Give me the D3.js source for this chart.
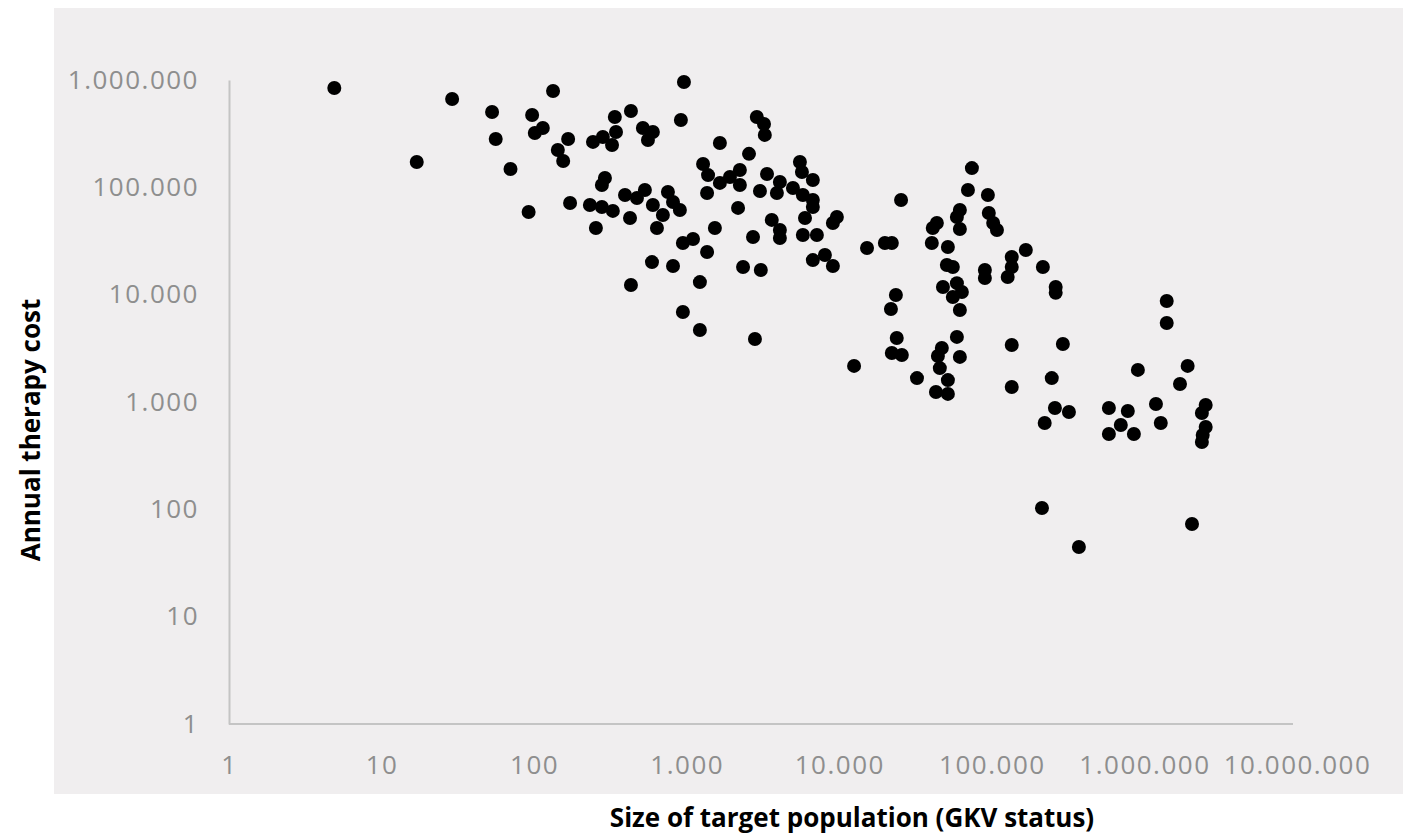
<html>
<head>
<meta charset="utf-8">
<script src="https://d3js.org/d3.v7.min.js"></script>
<style>
body { margin: 0; background: #fff; }
.tick text { font-family: "Open Sans", sans-serif; font-size: 26px; letter-spacing: 1.5px; fill: #8e8e8e; }
.title { font-family: "Open Sans", sans-serif; font-weight: 700; font-size: 26px; fill: #000; }
</style>
</head>
<body onload="init()">
<svg width="1403" height="835"></svg>
<script>
// values (x = target population, y = annual cost)
var population = [4.9, 29, 53, 97, 114, 101, 56, 17, 70, 92,
  133, 959, 431, 916, 338, 167, 143, 155, 243, 282,
  324, 344, 516, 600, 557, 1650, 2880, 3250, 2560, 1280,
  1380, 1360, 1650, 1920, 2230, 2230, 2170, 3020, 3360, 3610,
  291, 278, 172, 232, 278, 328, 394, 472, 532, 425,
  600, 753, 813, 902, 698, 638, 254, 1530, 944, 1100,
  1360, 2720, 592, 813, 2340, 3060, 431, 1220, 3210,
  944, 1220, 2800,
  5520, 5690, 4080, 6710, 3900, 4970, 5770, 6710, 6710, 4080,
  4080, 5960, 5770, 7130, 9640, 9080, 6710, 8050, 9080,
  25400, 15200, 19900, 22100,
  74000, 69700, 94200, 61700, 59000, 43600, 41000, 61700, 40400, 51500,
  50700, 55500, 47800, 59000, 63600, 55500, 61700, 90000, 90000,
  23500, 21800, 23800, 22100, 25700, 12500,
  59000, 47000, 44300, 45600, 61700, 32300, 51500, 43000, 51500,
  95500, 102000, 108000, 167000, 135000, 135000, 127000, 216000, 262000, 262000,
  1400000, 1400000, 135000, 292000, 906000, 1920000, 247000, 1710000,
  135000, 259000, 320000, 222000, 585000, 778000, 700000, 585000, 853000,
  1190000, 1280000, 2520000, 2380000, 2520000, 2410000, 2380000,
  213000, 2050000, 372000];

var annualCost = [843000, 665000, 504000, 472000, 357000, 321000, 282000, 172000, 148000, 58900,
  791000, 959000, 514000, 424000, 452000, 282000, 223000, 176000, 265000, 294000,
  248000, 328000, 357000, 328000, 276000, 259000, 452000, 308000, 205000, 165000,
  130000, 88500, 110000, 125000, 145000, 105000, 64300, 92500, 133000, 49700,
  122000, 105000, 71500, 68500, 65600, 60300, 84900, 79600, 94400, 51800,
  68500, 90600, 73100, 61500, 55200, 41800, 41800, 41800, 30300, 33000,
  25000, 34500, 20100, 18500, 18100, 17000, 12300, 13100, 389000,
  6900, 4690, 3860,
  172000, 139000, 112000, 117000, 88500, 98600, 84900, 76200, 65600, 40100,
  33700, 51800, 36000, 36000, 53000, 46600, 21000, 23400, 18500,
  76200, 27200, 30300, 30300,
  151000, 94400, 84900, 61500, 53000, 46600, 41800, 40900, 30300, 27800,
  18900, 18100, 11800, 12800, 10600, 9510, 7190, 17000, 14300,
  9930, 7360, 3950, 2860, 2740, 2170,
  4040, 3180, 2680, 2070, 2630, 1670, 1600, 1240, 1190,
  57700, 46600, 40100, 26100, 22400, 18100, 14600, 18100, 11800, 10400,
  8730, 5450, 3400, 3470, 1990, 2170, 1670, 1470,
  1380, 879, 807, 637, 879, 824, 611, 504, 504,
  958, 637, 938, 790, 585, 493, 424,
  103, 73, 44.6];

var xTicks = [1, 10, 100, 1000, 10000, 100000, 1000000, 10000000];
var yTicks = [1, 10, 100, 1000, 10000, 100000, 1000000];

var xTitle = "Size of target population (GKV status)";
var yTitle = "Annual therapy cost";

function init() {
  var svg = d3.select("svg");

  // german number format: 1.000.000
  var de = d3.formatLocale({decimal: ",", thousands: ".", grouping: [3], currency: ["", " €"]});
  var fmt = de.format(",d");

  var x = d3.scaleLog().domain([1, 1e7]).range([229, 1297]);
  var y = d3.scaleLog().domain([1, 1e6]).range([724, 80]);

  // grey plot panel
  svg.append("rect")
    .attr("x", 54).attr("y", 8)
    .attr("width", 1403 - 54).attr("height", 794 - 8)
    .attr("fill", "#f0eeef");

  var xAxis = d3.axisBottom(x)
    .tickValues(xTicks)
    .tickFormat(fmt)
    .tickSize(0)
    .tickPadding(32);

  var gx = svg.append("g")
    .attr("transform", "translate(0," + y(1) + ")")
    .call(xAxis);
  gx.select(".domain").attr("stroke", "#c4c4c4").attr("stroke-width", 2)
    .attr("d", "M" + x(1) + ",0H" + (x(1e7) - 4));

  var yAxis = d3.axisLeft(y)
    .tickValues(yTicks)
    .tickFormat(fmt)
    .tickSize(0)
    .tickPadding(30);

  var gy = svg.append("g")
    .attr("transform", "translate(" + x(1) + ",0)")
    .call(yAxis);
  gy.select(".domain").attr("stroke", "#c4c4c4").attr("stroke-width", 2);

  svg.selectAll(".tick text").attr("font-family", null).attr("font-size", null);

  var pts = population.map(function(p, i) { return [p, annualCost[i]]; });

  svg.append("g")
    .selectAll("circle")
    .data(pts)
    .enter()
    .append("circle")
      .attr("cx", function(d) { return x(d[0]); })
      .attr("cy", function(d) { return y(d[1]); })
      .attr("r", 7)
      .attr("fill", "#000");

  svg.append("text")
    .attr("class", "title")
    .attr("x", 852).attr("y", 827)
    .attr("text-anchor", "middle")
    .text(xTitle);

  svg.append("text")
    .attr("class", "title")
    .attr("transform", "translate(40,430) rotate(-90)")
    .attr("text-anchor", "middle")
    .text(yTitle);
}
</script>
</body>
</html>
